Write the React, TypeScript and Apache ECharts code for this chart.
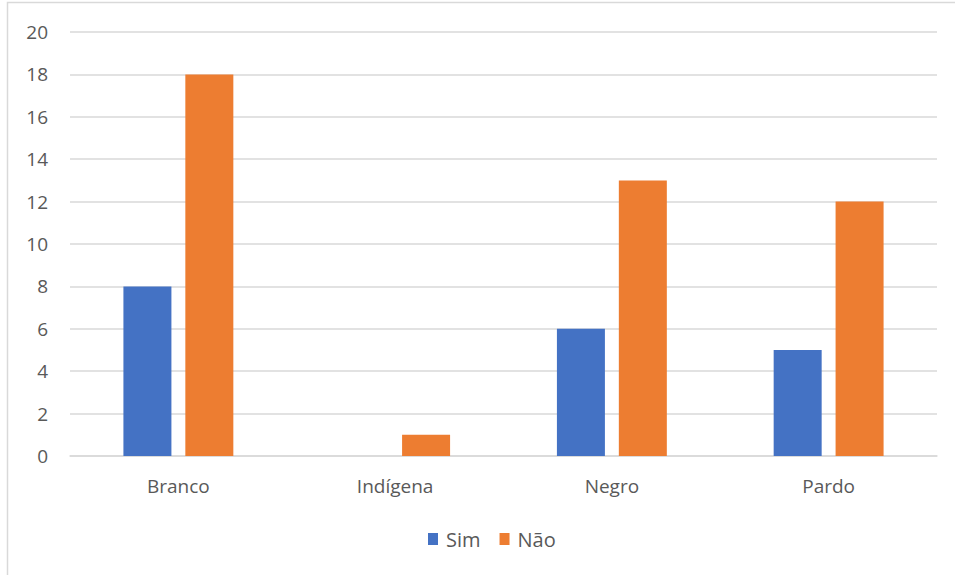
import React, { useEffect, useRef } from "react";
import * as echarts from "echarts";

const categories = ["Branco", "Indígena", "Negro", "Pardo"];
const simValues = [8, 0, 6, 5];
const naoValues = [18, 1, 13, 12];
const seriesNames = ["Sim", "Não"];

export default function App() {
  const ref = useRef<HTMLDivElement>(null);
  useEffect(() => {
    document.body.style.margin = "0";
    const chart = echarts.init(ref.current!, null, { renderer: "svg" });
    const font = "'Open Sans', 'Noto Sans', sans-serif";
    chart.setOption({
      animation: false,
      color: ["#4472C4", "#ED7D31"],
      graphic: [
        {
          type: "rect",
          shape: { x: 7.5, y: 2.5, width: 960, height: 590 },
          style: { fill: "none", stroke: "#d9d9d9", lineWidth: 1.5 },
          silent: true,
        },
      ],
      grid: { left: 70, right: 18, top: 32, bottom: 119 },
      legend: {
        top: 529,
        left: 428,
        padding: 0,
        itemWidth: 10,
        itemHeight: 12,
        itemGap: 19,
        icon: "rect",
        textStyle: { color: "#595959", fontSize: 20, fontFamily: font, padding: [0, 0, 0, 3] },
        data: seriesNames,
      },
      xAxis: {
        type: "category",
        data: categories,
        axisLine: { lineStyle: { color: "#d9d9d9", width: 1.5 } },
        axisTick: { show: false },
        axisLabel: { color: "#595959", fontSize: 19, fontFamily: font, margin: 20 },
      },
      yAxis: {
        type: "value",
        min: 0,
        max: 20,
        interval: 2,
        axisLine: { show: false },
        axisTick: { show: false },
        splitLine: { lineStyle: { color: "#d9d9d9", width: 1.5 } },
        axisLabel: { color: "#595959", fontSize: 19, fontFamily: font, margin: 22 },
      },
      series: [
        {
          name: seriesNames[0],
          type: "bar",
          data: simValues,
          barWidth: 48,
          barGap: "29%",
        },
        {
          name: seriesNames[1],
          type: "bar",
          data: naoValues,
          barWidth: 48,
          barGap: "29%",
        },
      ],
    });
    return () => chart.dispose();
  }, []);
  return <div ref={ref} style={{ width: 955, height: 575 }} />;
}
